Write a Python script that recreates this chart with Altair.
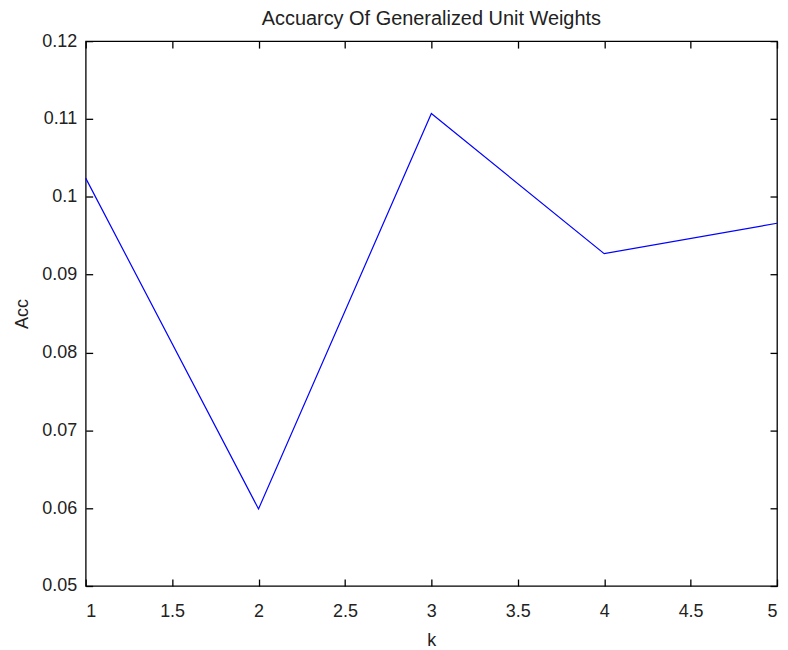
import altair as alt
import pandas as pd

k_values = [1, 2, 3, 4, 5]
acc_values = [0.1024, 0.0599, 0.1107, 0.0927, 0.0966]
x_ticks = [1, 1.5, 2, 2.5, 3, 3.5, 4, 4.5, 5]
y_ticks = [0.05, 0.06, 0.07, 0.08, 0.09, 0.10, 0.11, 0.12]

df = pd.DataFrame({"k": k_values, "Acc": acc_values})
FONT = "Liberation Sans"
FS = 18

xs = alt.Scale(domain=[1, 5], nice=False, zero=False)
ys = alt.Scale(domain=[0.05, 0.12], nice=False, zero=False)

base = alt.Chart(df)

main = base.mark_line(color="#0000ff", strokeWidth=1.2).encode(
    x=alt.X("k:Q", scale=xs, axis=alt.Axis(values=x_ticks, title="k", ticks=False, grid=False,
                                            domain=False, labelPadding=17, titlePadding=11,
                                            labelExpr="format(datum.value, '')")),
    y=alt.Y("Acc:Q", scale=ys, axis=alt.Axis(values=y_ticks, title="Acc", ticks=False, grid=False,
                                              domain=False, labelPadding=9, titlePadding=10,
                                              labelExpr="format(datum.value, '')")),
)

def tick_layer(xorient, yorient):
    return base.mark_line(opacity=0).encode(
        x=alt.X("k:Q", scale=xs, axis=alt.Axis(values=x_ticks, orient=xorient, offset=-7, tickSize=7,
                                                labels=False, domain=False, grid=False, title=None,
                                                tickColor="black")),
        y=alt.Y("Acc:Q", scale=ys, axis=alt.Axis(values=y_ticks, orient=yorient, offset=-7, tickSize=7,
                                                  labels=False, domain=False, grid=False, title=None,
                                                  tickColor="black")),
    )

chart = alt.layer(main, tick_layer("bottom", "left"), tick_layer("top", "right")).resolve_axis(
    x="independent", y="independent"
).properties(
    width=694, height=547,
    padding={"left": 5, "top": 0, "right": 0, "bottom": 0},
    title=alt.TitleParams("Accuarcy Of Generalized Unit Weights", fontSize=20, fontWeight="normal",
                          font=FONT, color="#222", offset=3),
).configure_view(stroke="black", strokeWidth=1.3).configure_axis(
    labelFont=FONT, titleFont=FONT, labelFontSize=FS, titleFontSize=FS, titleFontWeight="normal",
    labelColor="#222", titleColor="#222", tickWidth=1.3
)

chart.save("out.html", embed_options={"renderer": "svg", "actions": False})
